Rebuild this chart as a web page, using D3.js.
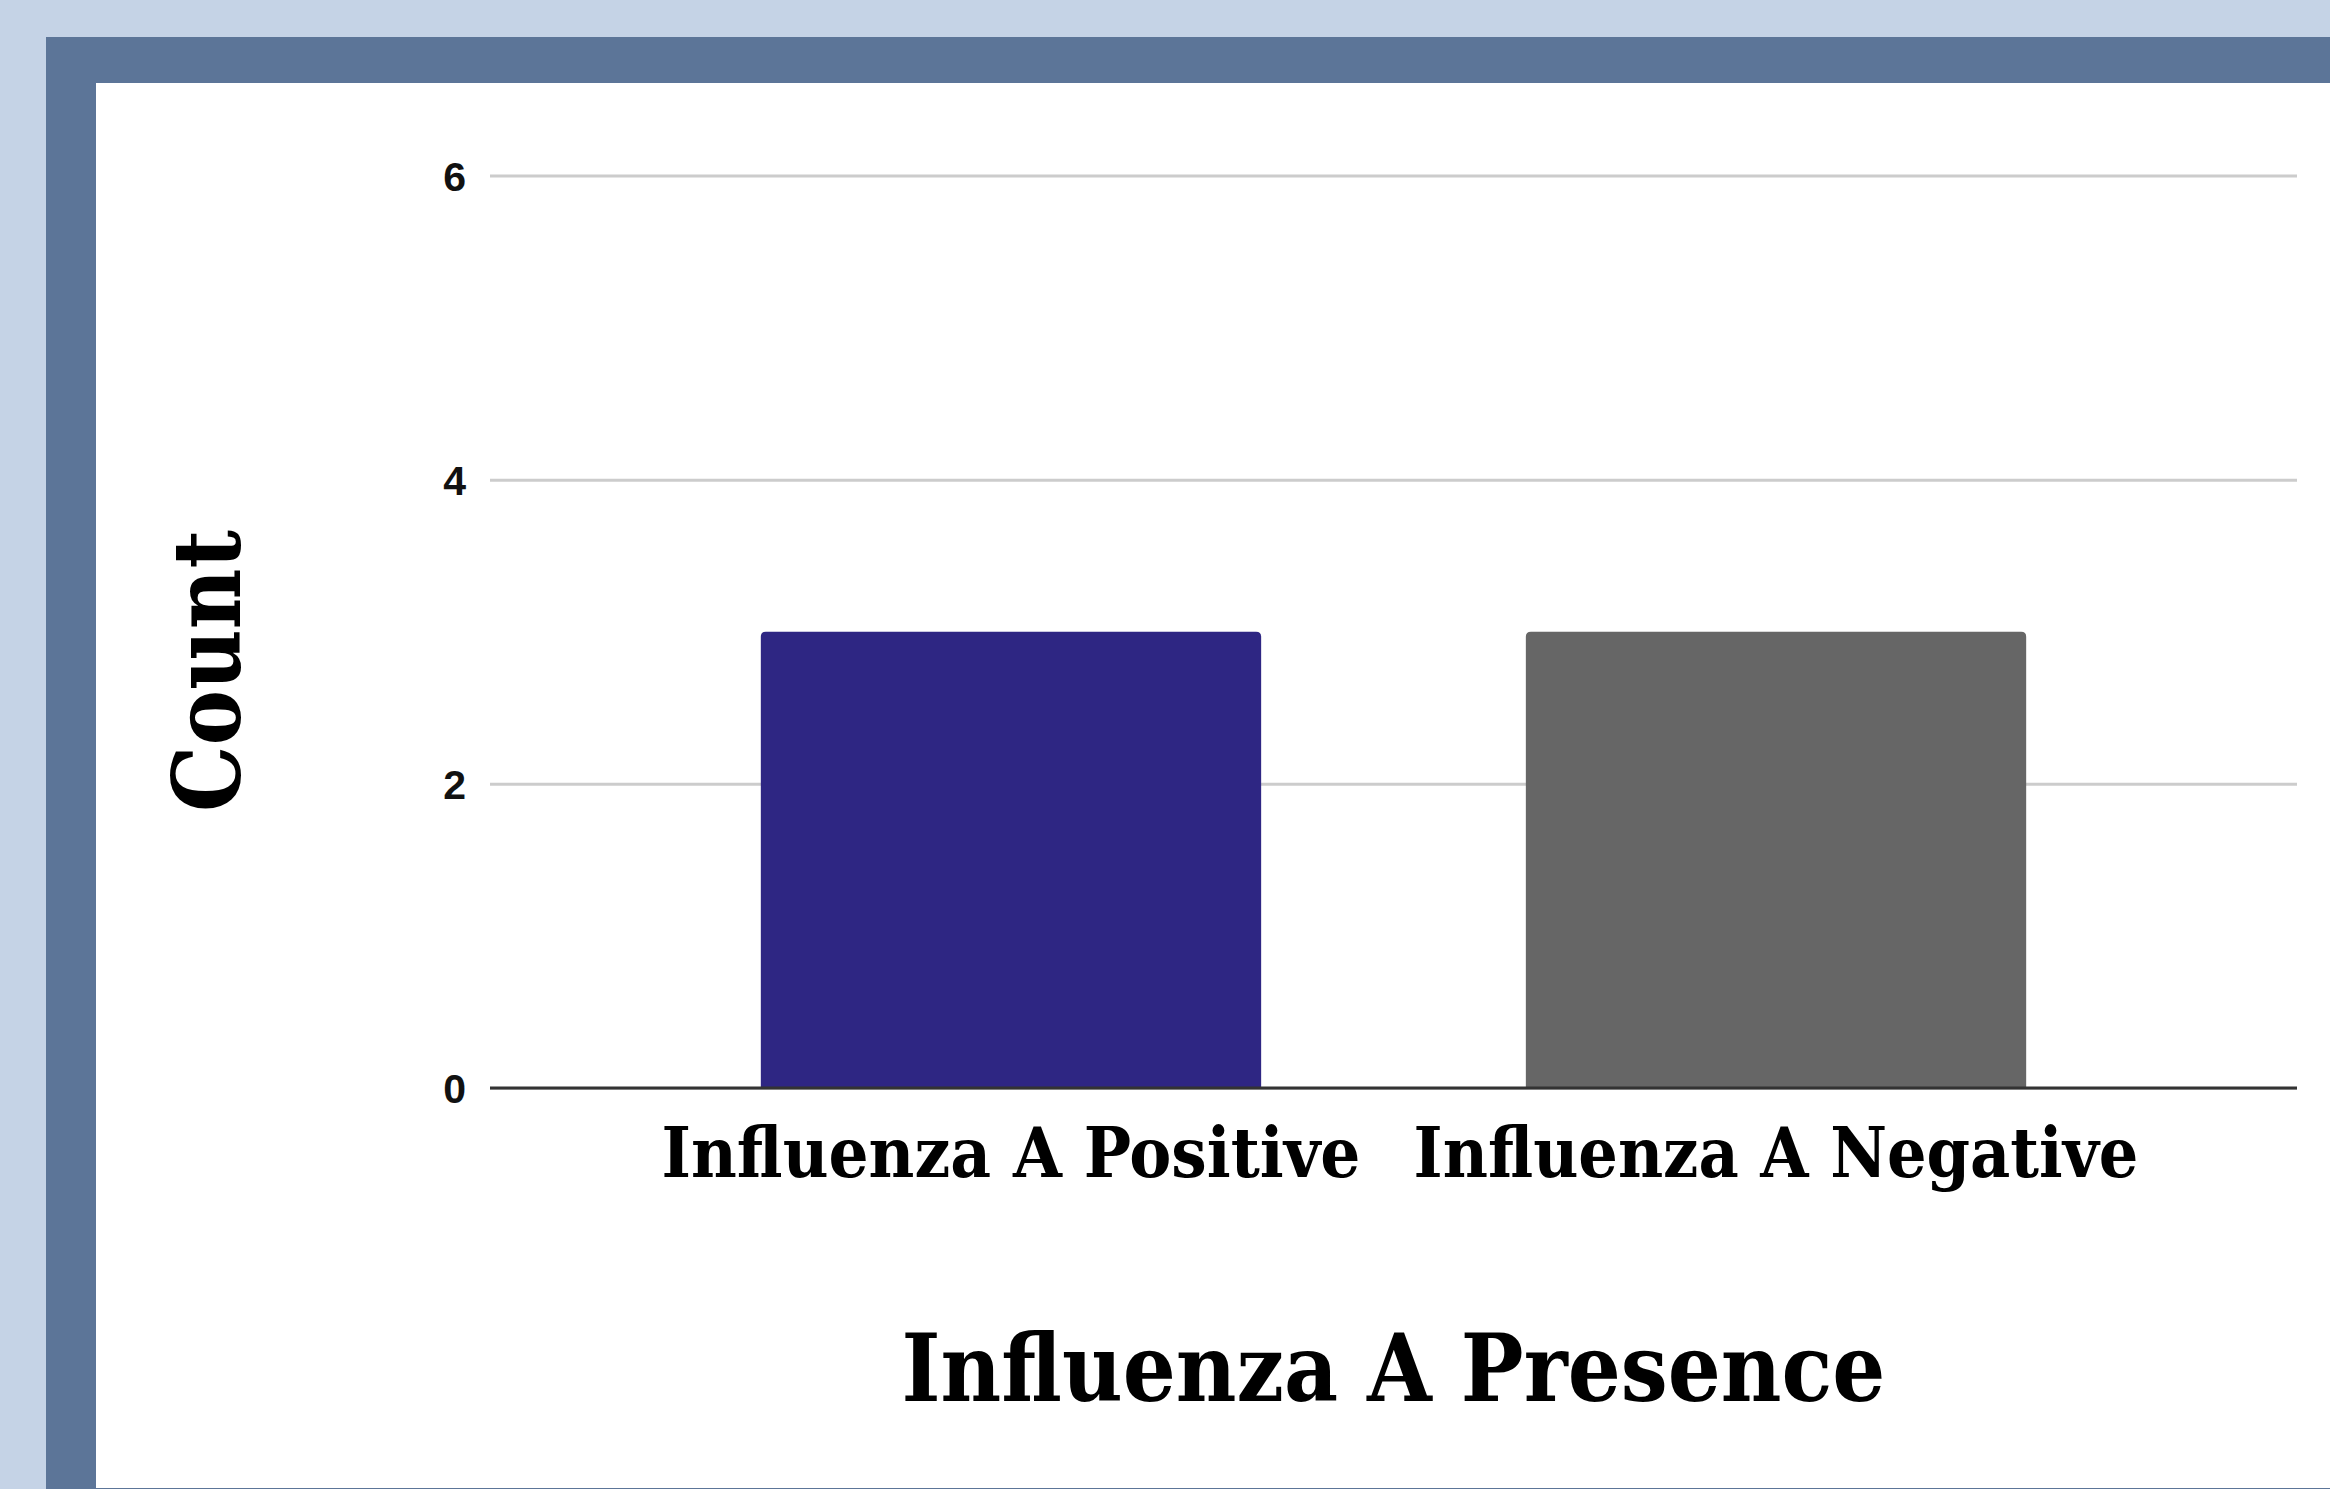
<!DOCTYPE html>
<html><head><meta charset="utf-8">
<script src="https://cdn.jsdelivr.net/npm/d3@7"></script>
<style>html,body{margin:0;padding:0;background:#c5d3e6;overflow:hidden}</style>
</head><body><svg id="c" width="2330" height="1489"></svg>
<script>
const categories = ["Influenza A Positive", "Influenza A Negative"];
const counts = [3, 3];
const yTicks = [0, 2, 4, 6];
const barColors = ["#2e2683", "#666666"];
const xTitle = "Influenza A Presence";
const yTitle = "Count";

(function () {
const svg = d3.select("#c");
const W = 2330, H = 1489;
const serif = "'DejaVu Serif Condensed','DejaVu Serif',serif";

// frame
svg.append("rect").attr("width", W).attr("height", H).attr("fill", "#c5d3e6");
svg.append("rect").attr("x", 46).attr("y", 37).attr("width", W - 46).attr("height", H - 37).attr("fill", "#5c7598");
svg.append("rect").attr("x", 96).attr("y", 83).attr("width", W - 96).attr("height", 1405).attr("fill", "#ffffff");

const pLeft = 490, pRight = 2297, pTop = 175.5, pBottom = 1088;
const y = d3.scaleLinear().domain([0, 6]).range([pBottom, pTop]);
const x = d3.scaleBand().domain(categories).range([pLeft, pRight]).paddingInner(0.346).paddingOuter(0.354);

// grid + y labels
const yAxis = d3.axisLeft(y).tickValues(yTicks).tickSize(-(pRight - pLeft)).tickPadding(24).tickFormat(d3.format("d"));
const gy = svg.append("g").attr("transform", `translate(${pLeft},0)`).call(yAxis);
gy.select(".domain").remove();
gy.selectAll(".tick line").attr("stroke", "#cccccc").attr("stroke-width", 3);
gy.selectAll(".tick text").attr("font-family", "'Liberation Sans',Arial,sans-serif")
  .attr("font-weight", "bold").attr("font-size", 41).attr("fill", "#111").attr("dy", "0.36em");

// bars with rounded top corners
const r = 5;
svg.append("g").selectAll("path").data(categories).join("path")
  .attr("fill", (d, i) => barColors[i])
  .attr("d", (d, i) => {
    const x0 = x(d), x1 = x(d) + x.bandwidth(), y0 = y(counts[i]), y1 = y(0);
    return `M${x0},${y1}V${y0 + r}Q${x0},${y0} ${x0 + r},${y0}H${x1 - r}Q${x1},${y0} ${x1},${y0 + r}V${y1}Z`;
  });

// baseline
svg.append("line").attr("x1", pLeft).attr("x2", pRight).attr("y1", y(0)).attr("y2", y(0))
  .attr("stroke", "#333333").attr("stroke-width", 3);

function fit(t, target) {
  const w = t.node().getComputedTextLength();
  const fs = parseFloat(t.attr("font-size"));
  t.attr("font-size", fs * target / w);
}

// x category labels
svg.append("g").selectAll("text").data(categories).join("text")
  .attr("x", d => x(d) + x.bandwidth() / 2).attr("y", 1177)
  .attr("text-anchor", "middle").attr("font-family", serif).attr("font-weight", "bold")
  .attr("font-size", 60).attr("fill", "#000").text(d => d)
  .each(function (d, i) { fit(d3.select(this), i === 0 ? 699 : 725); });

// x title
const xt = svg.append("text").attr("x", (pLeft + pRight) / 2).attr("y", 1401).attr("text-anchor", "middle")
  .attr("font-family", serif).attr("font-weight", "bold").attr("font-size", 90).attr("fill", "#000").text(xTitle);
fit(xt, 984);

// y title
const yt = svg.append("text").attr("transform", "translate(240,671) rotate(-90)").attr("text-anchor", "middle")
  .attr("font-family", serif).attr("font-weight", "bold").attr("font-size", 80).attr("fill", "#000").text(yTitle);
fit(yt, 282);
})();
</script></body></html>
